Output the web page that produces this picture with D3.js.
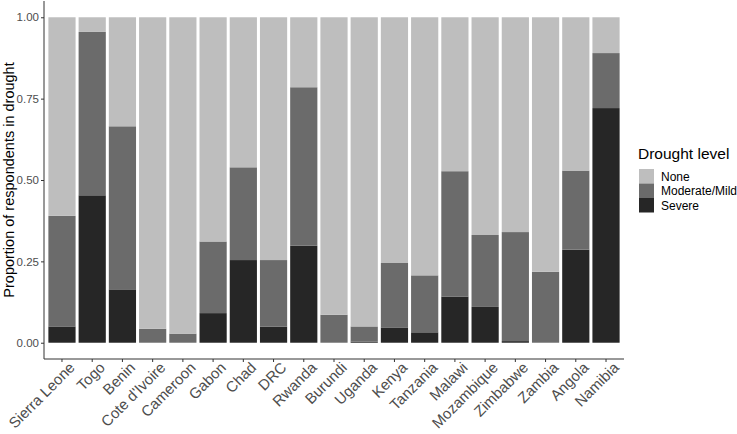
<!DOCTYPE html>
<html><head><meta charset="utf-8">
<script src="https://cdn.jsdelivr.net/npm/d3@7"></script>
<style>body{margin:0;background:#fff;} text{font-family:"Liberation Sans",Arial,sans-serif;}</style>
</head><body>
<svg id="c" width="737" height="434"></svg>
<script>
const countries = ["Sierra Leone","Togo","Benin","Cote d'Ivoire","Cameroon","Gabon","Chad","DRC","Rwanda","Burundi","Uganda","Kenya","Tanzania","Malawi","Mozambique","Zimbabwe","Zambia","Angola","Namibia"];
const severe   = [0.050,0.453,0.164,0.000,0.000,0.091,0.254,0.049,0.298,0.000,0.003,0.047,0.032,0.142,0.110,0.005,0.000,0.286,0.721];
const moderate = [0.340,0.502,0.501,0.043,0.028,0.220,0.285,0.205,0.487,0.086,0.047,0.198,0.175,0.385,0.221,0.335,0.218,0.243,0.169];
const levels = ["None","Moderate/Mild","Severe"];
const colors = ["#bebebe","#6b6b6b","#262626"];
const yTicks = [0,0.25,0.5,0.75,1];

const svg = d3.select("#c");
const L = 44, R = 624, T = 1, B = 359;
const u = (R-L)/20.2;
const x = d3.scaleBand().domain(countries).range([L + 0.1*u, R - 0.1*u]).paddingInner(0.1).paddingOuter(0.05);
const y = d3.scaleLinear().domain([-0.05,1.05]).range([B, T]);

const data = countries.map((c,i)=>{
  const s = severe[i], m = moderate[i];
  return [{k:2,y0:0,y1:s},{k:1,y0:s,y1:s+m},{k:0,y0:s+m,y1:1}].map(d=>({...d,c}));
});
const g = svg.append("g");
data.forEach(segs=>{
  g.selectAll(null).data(segs.filter(d=>d.y1>d.y0)).enter().append("rect")
    .attr("x",d=>x(d.c)).attr("width",x.bandwidth())
    .attr("y",d=>y(d.y1)).attr("height",d=>y(d.y0)-y(d.y1))
    .attr("fill",d=>colors[d.k]);
});

const yAxis = d3.axisLeft(y).tickValues(yTicks).tickFormat(d3.format(".2f")).tickSize(3).tickPadding(2);
const ya = svg.append("g").attr("transform",`translate(${L},0)`).call(yAxis);
ya.select(".domain").attr("d",`M0,${T}V${B}`).attr("stroke","#333").attr("stroke-width",1);
ya.selectAll(".tick line").attr("stroke","#333");
ya.selectAll(".tick text").attr("fill","#4d4d4d").style("font-size","11.5px").style("font-family","Liberation Sans, Arial, sans-serif");

const xAxis = d3.axisBottom(x).tickSize(3).tickPadding(2);
const xa = svg.append("g").attr("transform",`translate(0,${B})`).call(xAxis);
xa.select(".domain").attr("d",`M${L},0H${R}`).attr("stroke","#333");
xa.selectAll(".tick line").attr("stroke","#333");
xa.selectAll(".tick text").attr("fill","#4d4d4d").style("font-size","15px").style("font-family","Liberation Sans, Arial, sans-serif")
  .attr("text-anchor","end").attr("dy","0.7em").attr("y",6).attr("x",3)
  .attr("transform","rotate(-45)");

svg.append("text").attr("transform",`translate(14,${(T+B)/2}) rotate(-90)`).attr("text-anchor","middle")
  .style("font-size","14.5px").attr("fill","#000").text("Proportion of respondents in drought");

const lg = svg.append("g").attr("transform","translate(638,0)");
lg.append("text").attr("x",0).attr("y",159).style("font-size","15.5px").text("Drought level");
levels.forEach((lv,i)=>{
  lg.append("rect").attr("x",1).attr("y",169+i*14.5).attr("width",15).attr("height",14.5).attr("fill",colors[i]);
  lg.append("text").attr("x",23).attr("y",176.5+i*14.5).attr("dy","0.35em").style("font-size","12px").attr("fill","#000").text(lv);
});
</script>
</body></html>
